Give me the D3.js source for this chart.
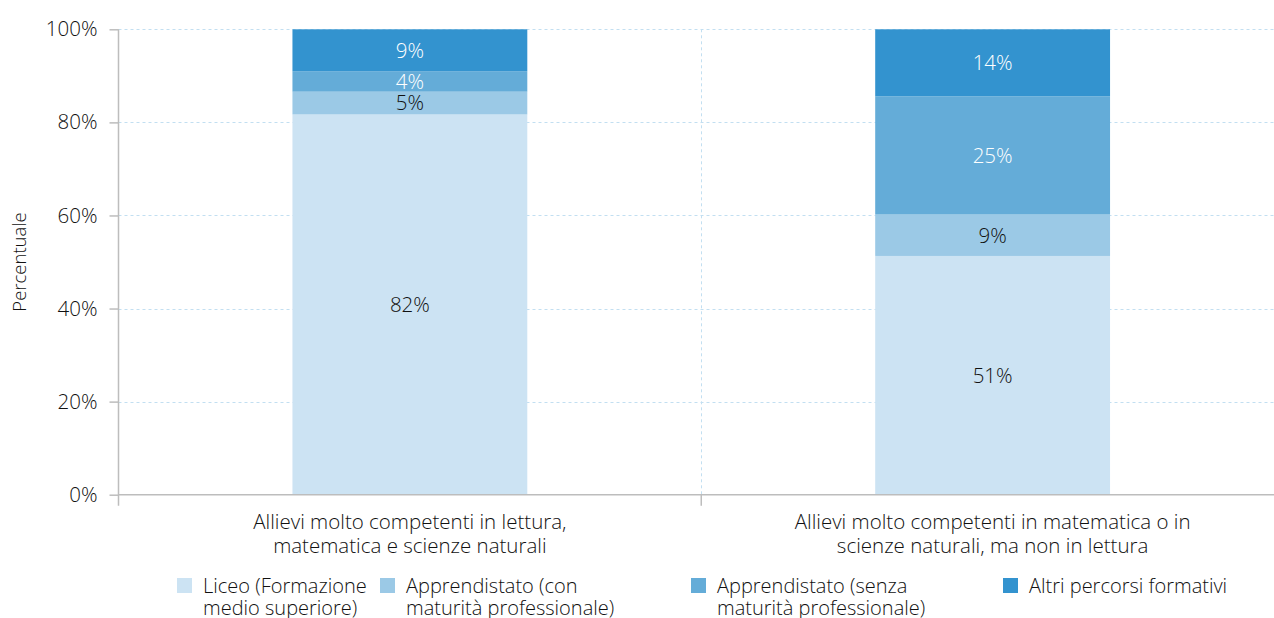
<!DOCTYPE html>
<html>
<head>
<meta charset="utf-8">
<script src="https://cdn.jsdelivr.net/npm/d3@7"></script>
<style>
  html, body { margin: 0; padding: 0; background: #fff; }
  svg { display: block; font-family: "Open Sans", "Noto Sans", sans-serif; font-weight: 300; }
</style>
</head>
<body>
<svg id="chart" width="1274" height="618"></svg>
<script>
// Categories (each drawn on two lines under the axis)
const categories = [
  ["Allievi molto competenti in lettura,", "matematica e scienze naturali"],
  ["Allievi molto competenti in matematica o in", "scienze naturali, ma non in lettura"]
];
// Series, stacked bottom to top
const seriesNames = [
  ["Liceo (Formazione", "medio superiore)"],
  ["Apprendistato (con", "maturità professionale)"],
  ["Apprendistato (senza", "maturità professionale)"],
  ["Altri percorsi formativi"]
];
const liceo        = [81.7, 51.3];
const apprCon      = [4.9, 8.9];
const apprSenza    = [4.4, 25.4];
const altri        = [9.0, 14.4];
const seriesValues = [liceo, apprCon, apprSenza, altri];
const colors = ["#cce3f3", "#9bc9e6", "#64acd8", "#3393cf"];
const labelColors = ["#111", "#111", "#fff", "#fff"];
const yTicks = [0, 20, 40, 60, 80, 100];

const svg = d3.select("#chart");
const margin = { left: 118.5, right: -10, top: 29.3, bottom: 123.3 };
const W = 1274, H = 618;
const x0 = margin.left, x1 = W - margin.right;
const yTop = margin.top, yBot = H - margin.bottom;

const x = d3.scaleBand().domain(d3.range(categories.length)).range([x0, x1])
  .paddingInner(0).paddingOuter(0);
const y = d3.scaleLinear().domain([0, 100]).range([yBot, yTop]);
const barW = x.bandwidth() * 0.403;

// Horizontal dotted gridlines
svg.append("g").selectAll("line").data(yTicks.filter(d => d > 0)).join("line")
  .attr("x1", x0).attr("x2", W)
  .attr("y1", d => Math.round(y(d)) + 0.5).attr("y2", d => Math.round(y(d)) + 0.5)
  .attr("stroke", "#c2dff1").attr("stroke-width", 1).attr("stroke-dasharray", "3,3");

// Vertical dotted separator between categories
svg.append("line")
  .attr("x1", Math.round(x(1)) + 0.5).attr("x2", Math.round(x(1)) + 0.5)
  .attr("y1", yTop).attr("y2", yBot)
  .attr("stroke", "#c2dff1").attr("stroke-dasharray", "3,3");

// Stacked bars
const stackData = categories.map((c, i) => {
  const o = { i };
  seriesValues.forEach((s, k) => o["s" + k] = s[i]);
  return o;
});
const stack = d3.stack().keys(seriesValues.map((s, k) => "s" + k));
const layers = stack(stackData);

const gBars = svg.append("g");
layers.forEach((layer, k) => {
  gBars.selectAll(null).data(layer).join("rect")
    .attr("x", d => x(d.data.i) + (x.bandwidth() - barW) / 2)
    .attr("width", barW)
    .attr("y", d => y(d[1]))
    .attr("height", d => y(d[0]) - y(d[1]))
    .attr("fill", colors[k]);
  gBars.selectAll(null).data(layer).join("text")
    .attr("x", d => x(d.data.i) + x.bandwidth() / 2)
    .attr("y", d => (y(d[0]) + y(d[1])) / 2)
    .attr("dy", "0.36em")
    .attr("text-anchor", "middle")
    .attr("font-size", 20.5)
    .attr("fill", labelColors[k])
    .text(d => d3.format(".0f")(d[1] - d[0]) + "%");
});

// Y axis
const yAxis = d3.axisLeft(y).tickValues(yTicks).tickFormat(d => d + "%")
  .tickSize(9).tickPadding(12);
const gy = svg.append("g").attr("transform", `translate(${x0},0)`).call(yAxis);
gy.select(".domain").remove();
gy.selectAll(".tick line").attr("stroke", "#bdbdbd").attr("stroke-width", 1.5);
gy.selectAll(".tick text").attr("font-size", 20.5).attr("fill", "#111")
  .attr("font-family", "'Open Sans', sans-serif").attr("font-weight", 300);
svg.append("line").attr("x1", x0).attr("x2", x0).attr("y1", yTop).attr("y2", yBot + 11)
  .attr("stroke", "#bdbdbd").attr("stroke-width", 1.5);

// X axis baseline and category ticks
svg.append("line").attr("x1", x0).attr("x2", W).attr("y1", yBot).attr("y2", yBot)
  .attr("stroke", "#bdbdbd").attr("stroke-width", 1.5);
svg.append("line").attr("x1", x(1)).attr("x2", x(1)).attr("y1", yBot).attr("y2", yBot + 11)
  .attr("stroke", "#bdbdbd").attr("stroke-width", 1.5);

// Category labels
categories.forEach((lines, i) => {
  const t = svg.append("text")
    .attr("x", x(i) + x.bandwidth() / 2).attr("y", yBot + 34)
    .attr("text-anchor", "middle").attr("font-size", 20.5).attr("fill", "#111");
  lines.forEach((ln, j) => t.append("tspan")
    .attr("x", x(i) + x.bandwidth() / 2).attr("dy", j === 0 ? 0 : 24).text(ln));
});

// Y axis title
svg.append("text")
  .attr("transform", `translate(26,${(yTop + yBot) / 2}) rotate(-90)`)
  .attr("text-anchor", "middle").attr("font-size", 18.5).attr("fill", "#111")
  .text("Percentuale");

// Legend
const legendX = [177, 380, 691, 1003];
const legend = svg.append("g");
seriesNames.forEach((lines, k) => {
  legend.append("rect").attr("x", legendX[k]).attr("y", 578)
    .attr("width", 15).attr("height", 15).attr("fill", colors[k]);
  const t = legend.append("text").attr("x", legendX[k] + 26).attr("y", 593)
    .attr("font-size", 20).attr("fill", "#111");
  lines.forEach((ln, j) => t.append("tspan")
    .attr("x", legendX[k] + 26).attr("dy", j === 0 ? 0 : 22).text(ln));
});
</script>
</body>
</html>
